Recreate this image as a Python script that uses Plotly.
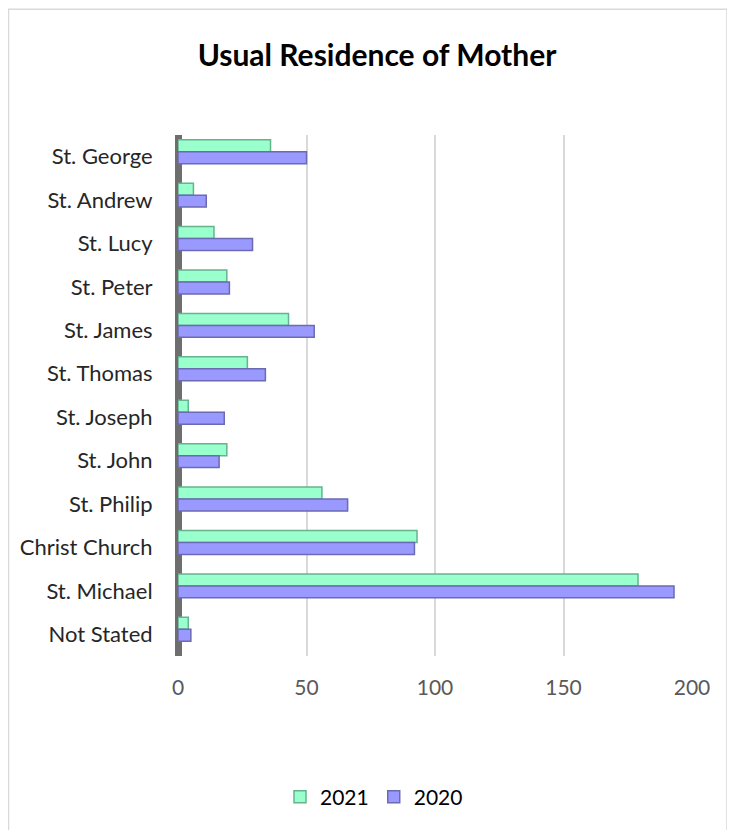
import plotly.graph_objects as go

categories = ["St. George", "St. Andrew", "St. Lucy", "St. Peter", "St. James", "St. Thomas",
              "St. Joseph", "St. John", "St. Philip", "Christ Church", "St. Michael", "Not Stated"]
values_2021 = [36, 6, 14, 19, 43, 27, 4, 19, 56, 93, 179, 4]
values_2020 = [50, 11, 29, 20, 53, 34, 18, 16, 66, 92, 193, 5]
x_ticks = [0, 50, 100, 150, 200]

# figure is placed at (8, 8) in the page
W, H = 727, 822
ml, mr, mt, mb = 170, 43, 127, 171
pw, ph = W - ml - mr, H - mt - mb
FONT = "Lato, Carlito, Open Sans, sans-serif"

fig = go.Figure()
fig.add_trace(go.Bar(y=categories, x=values_2021, name="2021", orientation="h",
                     width=0.275, offset=-0.39,
                     marker=dict(color="#99FFCC", line=dict(color="#66B38F", width=1.5))))
fig.add_trace(go.Bar(y=categories, x=values_2020, name="2020", orientation="h",
                     width=0.275, offset=-0.115,
                     marker=dict(color="#9999FF", line=dict(color="#6B6BB3", width=1.5))))

fig.update_layout(
    width=W, height=H,
    margin=dict(l=ml, r=mr, t=mt, b=mb),
    paper_bgcolor="white", plot_bgcolor="white",
    barmode="overlay",
    font=dict(family=FONT, color="#404040", size=22),
    title=dict(text="<b>Usual Residence of Mother</b>", x=369 / W, xanchor="center",
               y=1 - 47 / H, yanchor="middle", yref="container",
               font=dict(size=30, color="#000000", family=FONT)),
    legend=dict(orientation="h", x=(366 - ml) / pw, xanchor="center",
                y=-(793 - (H - mb)) / ph, yanchor="middle",
                font=dict(size=21, color="#000000", family=FONT), itemwidth=30,
                traceorder="normal"),
    showlegend=True,
)
fig.update_xaxes(range=[0, 200], tickvals=x_ticks, showgrid=True, gridcolor="#D9D9D9", gridwidth=2,
                 zeroline=True, zerolinecolor="#6E6E6E", zerolinewidth=7,
                 ticks="outside", ticklen=13, tickcolor="rgba(0,0,0,0)",
                 tickfont=dict(size=21, color="#595959", family=FONT), showline=False)
fig.update_yaxes(autorange="reversed", showgrid=False, ticks="outside", ticklen=20,
                 tickcolor="rgba(0,0,0,0)", tickfont=dict(size=22, color="#262626", family=FONT),
                 showline=False)

# chart-area border (light gray)
fig.add_shape(type="rect", xref="paper", yref="paper",
              x0=(0.5 - ml) / pw, x1=(719 - ml) / pw,
              y0=(H - mb - 840) / ph, y1=(H - mb - 0.5) / ph,
              line=dict(color="#D9D9D9", width=1.5), fillcolor="rgba(0,0,0,0)", layer="below")

fig.write_html("out.html")
